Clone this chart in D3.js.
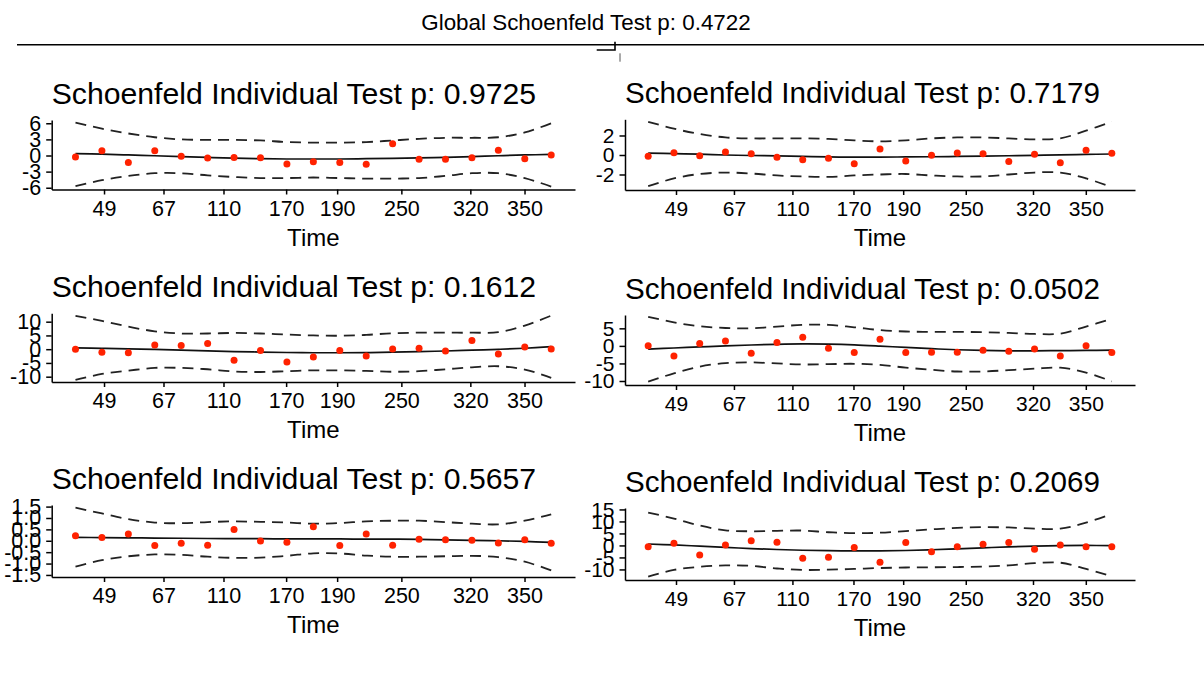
<!DOCTYPE html>
<html>
<head>
<meta charset="utf-8">
<script src="https://cdn.jsdelivr.net/npm/d3@7"></script>
<style>
    body { margin: 0; background: #ffffff; }
    svg text { font-family: "Liberation Sans", Arial, Helvetica, sans-serif; fill: #000000; }
</style>
</head>
<body>
<div id="graph"></div>
<script>
var globalTitle = "Global Schoenfeld Test p: 0.4722";
var panelTitles = [
    "Schoenfeld Individual Test p: 0.9725",
    "Schoenfeld Individual Test p: 0.7179",
    "Schoenfeld Individual Test p: 0.1612",
    "Schoenfeld Individual Test p: 0.0502",
    "Schoenfeld Individual Test p: 0.5657",
    "Schoenfeld Individual Test p: 0.2069"
];

// transformed time (event rank) and the time labels shown on the axis
var eventRank = [1, 2, 3, 4, 5, 6, 7, 8, 9, 10, 11, 12, 13, 14, 15, 16, 17, 18, 19];
var timeTickRank = [2.08, 4.33, 6.6, 8.97, 10.9, 13.33, 15.94, 17.99];
var timeTickLabels = ["49", "67", "110", "170", "190", "250", "320", "350"];

// panel 1
var resid1 = [-0.3, 0.9, -1.3, 0.9, -0.15, -0.45, -0.35, -0.4, -1.6, -1.15, -1.3, -1.65, 2.2, -0.7, -0.7, -0.4, 1.0, -0.6, 0.1];
var fit1   = [0.35, 0.25, 0.1, -0.05, -0.2, -0.35, -0.5, -0.6, -0.65, -0.65, -0.65, -0.6, -0.55, -0.45, -0.35, -0.2, -0.05, 0.1, 0.2];
var upper1 = [6.1, 5.0, 4.1, 3.4, 3.0, 2.9, 2.9, 2.8, 2.5, 2.4, 2.4, 2.5, 2.8, 3.1, 3.3, 3.3, 3.4, 4.3, 6.0];
var lower1 = [-5.7, -4.6, -3.8, -3.3, -3.3, -3.7, -4.0, -4.2, -4.2, -4.1, -4.2, -4.3, -4.3, -4.2, -3.8, -3.3, -3.3, -4.2, -5.8];
var yTicks1 = [-6, -3, 0, 3, 6];
var yDomain1 = [-6.33, 6.61];

// panel 2
var resid2 = [-0.13, 0.24, -0.07, 0.3, 0.13, -0.24, -0.5, -0.34, -0.9, 0.62, -0.62, -0.03, 0.2, 0.13, -0.68, 0.07, -0.79, 0.48, 0.17];
var fit2   = [0.2, 0.15, 0.08, 0.0, -0.05, -0.1, -0.15, -0.2, -0.22, -0.22, -0.2, -0.18, -0.15, -0.12, -0.08, -0.03, 0.02, 0.06, 0.1];
var upper2 = [3.4, 2.7, 2.15, 1.8, 1.7, 1.7, 1.7, 1.65, 1.5, 1.4, 1.5, 1.7, 1.8, 1.8, 1.7, 1.6, 1.7, 2.5, 3.4];
var lower2 = [-3.2, -2.4, -1.95, -1.8, -1.9, -2.1, -2.2, -2.25, -2.1, -2.0, -1.95, -2.1, -2.2, -2.2, -2.0, -1.8, -1.8, -2.4, -3.3];
var yTicks2 = [-2, 0, 2];
var yDomain2 = [-3.59, 3.66];

// panel 3
var resid3 = [0, -1.1, -1.3, 1.5, 1.3, 2.1, -4.0, -0.5, -4.7, -2.8, -0.5, -2.5, 0.1, 0.3, -0.65, 3.2, -1.75, 0.8, 0.1];
var fit3   = [0.45, 0.3, 0.1, -0.1, -0.35, -0.6, -0.85, -1.05, -1.2, -1.3, -1.3, -1.25, -1.1, -0.9, -0.65, -0.35, -0.05, 0.35, 0.9];
var upper3 = [12.1, 10.3, 8.2, 6.5, 5.7, 5.7, 5.9, 5.7, 5.3, 5.0, 4.9, 5.2, 5.8, 6.0, 6.0, 6.0, 6.2, 8.6, 12.2];
var lower3 = [-11.2, -9.0, -7.8, -6.8, -6.8, -7.3, -8.1, -8.3, -8.0, -7.7, -7.7, -7.9, -8.2, -8.0, -7.3, -6.6, -6.2, -7.4, -10.4];
var yTicks3 = [-10, -5, 0, 5, 10];
var yDomain3 = [-11.93, 13.05];

// panel 4
var resid4 = [0.06, -2.9, 0.7, 1.4, -2.1, 1.0, 2.45, -0.7, -1.9, 1.9, -1.9, -1.8, -1.8, -1.25, -1.55, -0.9, -2.9, 0.06, -1.9];
var fit4   = [-0.9, -0.6, -0.3, 0.0, 0.25, 0.45, 0.55, 0.5, 0.3, -0.05, -0.45, -0.8, -1.1, -1.3, -1.4, -1.4, -1.35, -1.3, -1.2];
var upper4 = [8.3, 6.7, 5.6, 5.1, 5.0, 5.5, 6.0, 6.0, 5.3, 4.5, 4.1, 4.0, 4.0, 3.9, 3.7, 3.4, 3.5, 5.5, 7.7];
var lower4 = [-10.2, -7.8, -5.9, -4.9, -4.7, -5.0, -5.3, -5.2, -5.1, -5.4, -6.2, -6.8, -7.3, -7.3, -6.9, -6.5, -6.2, -7.6, -10.1];
var yTicks4 = [-10, -5, 0, 5];
var yDomain4 = [-11.14, 8.8];

// panel 5
var resid5 = [0.22, 0.14, 0.3, -0.21, -0.11, -0.2, 0.49, -0.01, -0.07, 0.62, -0.21, 0.3, -0.2, 0.07, 0.04, 0.02, -0.1, 0.04, -0.11];
var fit5   = [0.15, 0.14, 0.13, 0.12, 0.11, 0.1, 0.09, 0.09, 0.08, 0.08, 0.08, 0.07, 0.07, 0.06, 0.04, 0.02, 0.0, -0.03, -0.07];
var upper5 = [1.45, 1.2, 0.95, 0.8, 0.77, 0.82, 0.85, 0.83, 0.8, 0.75, 0.78, 0.85, 0.88, 0.88, 0.82, 0.75, 0.72, 0.88, 1.16];
var lower5 = [-1.13, -0.85, -0.68, -0.6, -0.62, -0.7, -0.75, -0.74, -0.66, -0.55, -0.56, -0.65, -0.7, -0.7, -0.68, -0.66, -0.72, -0.92, -1.3];
var yTicks5 = [-1.5, -1, -0.5, 0, 0.5, 1, 1.5];
var yDomain5 = [-1.59, 1.57];

// panel 6
var resid6 = [-0.5, 0.9, -4.0, 0.2, 2.0, 1.3, -5.3, -4.9, -0.9, -7.0, 1.2, -2.6, -0.5, 0.5, 1.2, -1.6, 0.2, -0.5, -0.5];
var fit6   = [0.6, 0.2, -0.3, -0.8, -1.3, -1.7, -2.0, -2.2, -2.3, -2.25, -2.1, -1.8, -1.4, -1.0, -0.6, -0.3, -0.1, 0.0, -0.1];
var upper6 = [13.7, 11.2, 8.3, 6.3, 5.9, 6.1, 6.2, 5.5, 5.1, 5.3, 6.0, 6.7, 7.3, 7.6, 7.5, 7.0, 7.0, 9.5, 13.1];
var lower6 = [-13.0, -10.2, -8.9, -8.3, -8.5, -9.6, -10.2, -10.1, -9.8, -9.4, -9.2, -9.1, -9.0, -8.8, -8.3, -7.4, -7.2, -9.8, -12.8];
var yTicks6 = [-10, -5, 0, 5, 10, 15];
var yDomain6 = [-14.4, 15.6];

var panels = [
    {resid: resid1, fit: fit1, upper: upper1, lower: lower1, yTicks: yTicks1, yDomain: yDomain1},
    {resid: resid2, fit: fit2, upper: upper2, lower: lower2, yTicks: yTicks2, yDomain: yDomain2},
    {resid: resid3, fit: fit3, upper: upper3, lower: lower3, yTicks: yTicks3, yDomain: yDomain3},
    {resid: resid4, fit: fit4, upper: upper4, lower: lower4, yTicks: yTicks4, yDomain: yDomain4},
    {resid: resid5, fit: fit5, upper: upper5, lower: lower5, yTicks: yTicks5, yDomain: yDomain5, fixed: 1},
    {resid: resid6, fit: fit6, upper: upper6, lower: lower6, yTicks: yTicks6, yDomain: yDomain6}
];

// plot boxes of the 3x2 grid (left, right, top, bottom)
var boxes = [
    [51.7, 575, 120, 189.5],
    [625, 1135, 119.3, 190],
    [51.7, 575, 313.3, 382],
    [625, 1135, 315, 385],
    [51.7, 575, 505, 577],
    [625, 1135, 508, 580]
];

var width = 1204;
var height = 679;

var svg = d3.select("#graph").append("svg")
    .attr("width", width)
    .attr("height", height);

svg.append("text")
    .attr("x", 586)
    .attr("y", 30)
    .attr("text-anchor", "middle")
    .attr("font-size", 22.4)
    .text(globalTitle);

// grid.arrange leftovers under the global title
svg.append("line")
    .attr("x1", 17).attr("x2", width)
    .attr("y1", 44.8).attr("y2", 44.8)
    .attr("stroke", "#000").attr("stroke-width", 1.6);
svg.append("path")
    .attr("d", "M596.7,50H615V41.7")
    .attr("fill", "none")
    .attr("stroke", "#000").attr("stroke-width", 1.6);
svg.append("line")
    .attr("x1", 620).attr("x2", 620)
    .attr("y1", 53.3).attr("y2", 61.7)
    .attr("stroke", "#555").attr("stroke-width", 1);

function hyphen(f) {
    return function(d) { return f(d).replace("\u2212", "-"); };
}

panels.forEach(function(p, i) {
    var b = boxes[i];
    var left = b[0], right = b[1], top = b[2], bottom = b[3];
    var rightColumn = i % 2 == 1;

    var x = d3.scaleLinear()
        .domain([0.1, 19.9])
        .range([left, right]);
    var y = d3.scaleLinear()
        .domain(p.yDomain)
        .range([bottom, top]);

    var g = svg.append("g").attr("class", "panel");

    g.append("text")
        .attr("x", left)
        .attr("y", top - 16)
        .attr("font-size", rightColumn ? 29.6 : 30.2)
        .text(panelTitles[i]);

    var band = d3.line()
        .curve(d3.curveCatmullRom)
        .x(function(d, j) { return x(eventRank[j]); })
        .y(function(d) { return y(d); });

    [p.upper, p.lower].forEach(function(values) {
        g.append("path")
            .attr("d", band(values))
            .attr("fill", "none")
            .attr("stroke", "#222222")
            .attr("stroke-width", 1.8)
            .attr("stroke-dasharray", "11,7");
    });

    g.append("path")
        .attr("d", band(p.fit))
        .attr("fill", "none")
        .attr("stroke", "#111111")
        .attr("stroke-width", 1.7);

    g.selectAll(".resid")
        .data(p.resid)
        .enter()
        .append("circle")
        .attr("class", "resid")
        .attr("cx", function(d, j) { return x(eventRank[j]); })
        .attr("cy", function(d) { return y(d); })
        .attr("r", 3.5)
        .attr("fill", "#ff2200");

    var xAxis = d3.axisBottom(x)
        .tickValues(timeTickRank)
        .tickFormat(function(d, j) { return timeTickLabels[j]; })
        .tickSize(5)
        .tickSizeOuter(0)
        .tickPadding(6);

    var yAxis = d3.axisLeft(y)
        .tickValues(p.yTicks)
        .tickFormat(hyphen(p.fixed ? d3.format(".1f") : d3.format("d")))
        .tickSize(5.5)
        .tickSizeOuter(0)
        .tickPadding(5);

    var gX = g.append("g")
        .attr("class", "axis axis--x")
        .attr("transform", "translate(0," + bottom + ")")
        .call(xAxis);
    gX.selectAll("text")
        .attr("font-size", rightColumn ? 21 : 21.5);

    var gY = g.append("g")
        .attr("class", "axis axis--y")
        .attr("transform", "translate(" + left + ",0)")
        .call(yAxis);
    gY.selectAll("text")
        .attr("font-size", rightColumn ? 21 : 21.5);

    g.selectAll(".axis path, .axis line")
        .attr("stroke", "#000")
        .attr("stroke-width", 1.5);
    g.selectAll(".axis")
        .attr("font-family", null)
        .attr("font-size", null);

    g.append("text")
        .attr("x", (left + right) / 2)
        .attr("y", bottom + 56)
        .attr("text-anchor", "middle")
        .attr("font-size", 24)
        .text("Time");
});
</script>
</body>
</html>
